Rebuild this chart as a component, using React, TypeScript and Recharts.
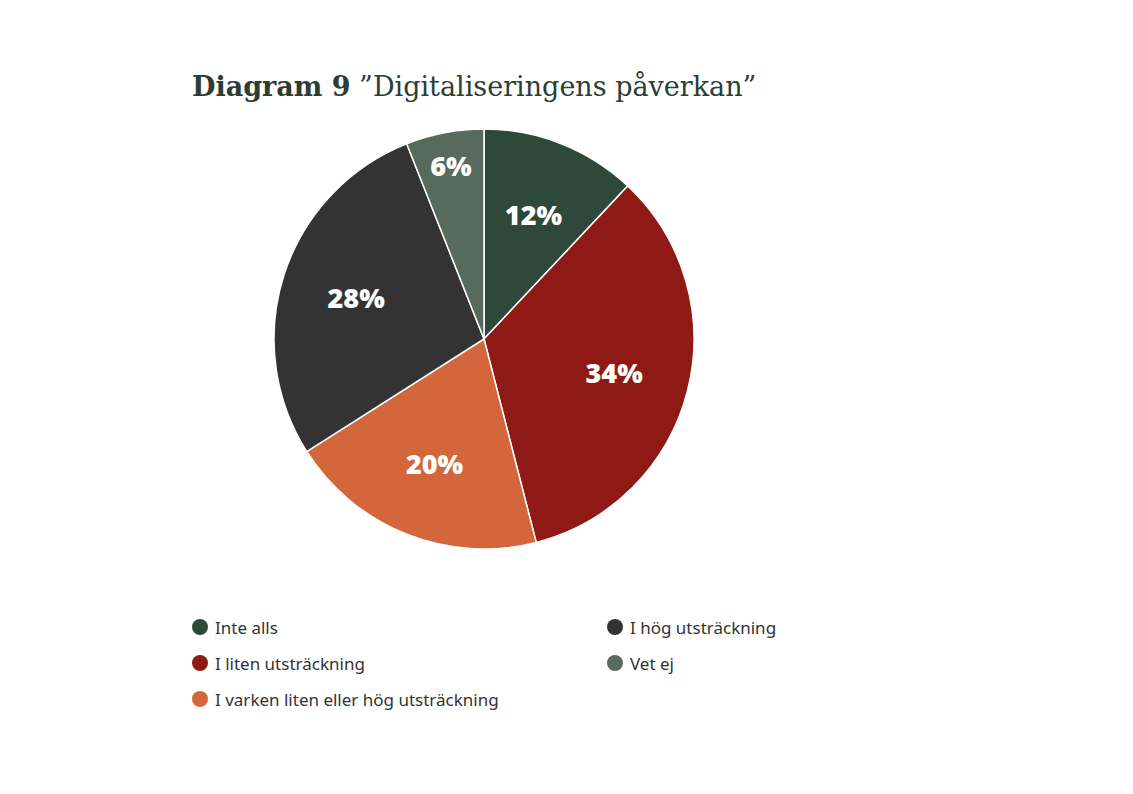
import React from 'react';
import { PieChart, Pie, Cell, Legend } from 'recharts';

const categories = [
  'Inte alls',
  'I liten utsträckning',
  'I varken liten eller hög utsträckning',
  'I hög utsträckning',
  'Vet ej',
];
const shares = [12, 34, 20, 28, 6];
const colors = ['#2e4839', '#8f1915', '#d3663a', '#333333', '#566a5e'];

const data = categories.map((name, i) => ({ name, value: shares[i], fill: colors[i] }));

const RAD = Math.PI / 180;

const renderLabel = (props: any) => {
  const { cx, cy, midAngle, outerRadius, value } = props;
  // small slices get pushed closer to the rim
  const r = outerRadius * (value < 10 ? 0.84 : 0.64);
  const x = cx + r * Math.cos(-midAngle * RAD);
  const y = cy + r * Math.sin(-midAngle * RAD);
  return (
    <text
      x={x}
      y={y}
      fill="#ffffff"
      textAnchor="middle"
      dominantBaseline="central"
      style={{ fontFamily: '"Open Sans", sans-serif', fontWeight: 800, fontSize: 27 }}
    >
      {value}%
    </text>
  );
};

const LegendGrid = () => (
  <div
    style={{
      display: 'grid',
      gridAutoFlow: 'column',
      gridTemplateRows: 'repeat(3, 36px)',
      gridTemplateColumns: '415px 1fr',
      fontFamily: '"Noto Sans", sans-serif',
      fontSize: 17,
      color: '#333333',
    }}
  >
    {data.map((d) => (
      <div key={d.name} style={{ display: 'flex', alignItems: 'center' }}>
        <span
          style={{
            width: 16,
            height: 16,
            borderRadius: '50%',
            background: d.fill,
            display: 'inline-block',
            marginRight: 7,
            flexShrink: 0,
          }}
        />
        <span>{d.name}</span>
      </div>
    ))}
  </div>
);

export default function App() {
  return (
    <div style={{ position: 'absolute', left: 0, top: 0, width: 1133, height: 794, background: '#fff' }}>
      <div
        style={{
          position: 'absolute',
          left: 192,
          top: 69,
          fontFamily: '"DejaVu Serif", serif',
          fontSize: 27,
          lineHeight: '36px',
          color: '#2c3d33',
          whiteSpace: 'nowrap',
        }}
      >
        <span style={{ fontWeight: 700 }}>Diagram 9</span> ”Digitaliseringens påverkan”
      </div>
      <PieChart width={1133} height={794} margin={{ top: 0, right: 0, bottom: 0, left: 0 }}>
        <Pie
          data={data}
          dataKey="value"
          nameKey="name"
          cx={484}
          cy={339}
          outerRadius={210}
          startAngle={90}
          endAngle={-270}
          stroke="#ffffff"
          strokeWidth={1.5}
          label={renderLabel}
          labelLine={false}
          isAnimationActive={false}
        >
          {data.map((d) => (
            <Cell key={d.name} fill={d.fill} />
          ))}
        </Pie>
        <Legend
          content={() => <LegendGrid />}
          wrapperStyle={{ position: 'absolute', left: 192, top: 609, width: 700, bottom: 'auto' }}
        />
      </PieChart>
    </div>
  );
}
